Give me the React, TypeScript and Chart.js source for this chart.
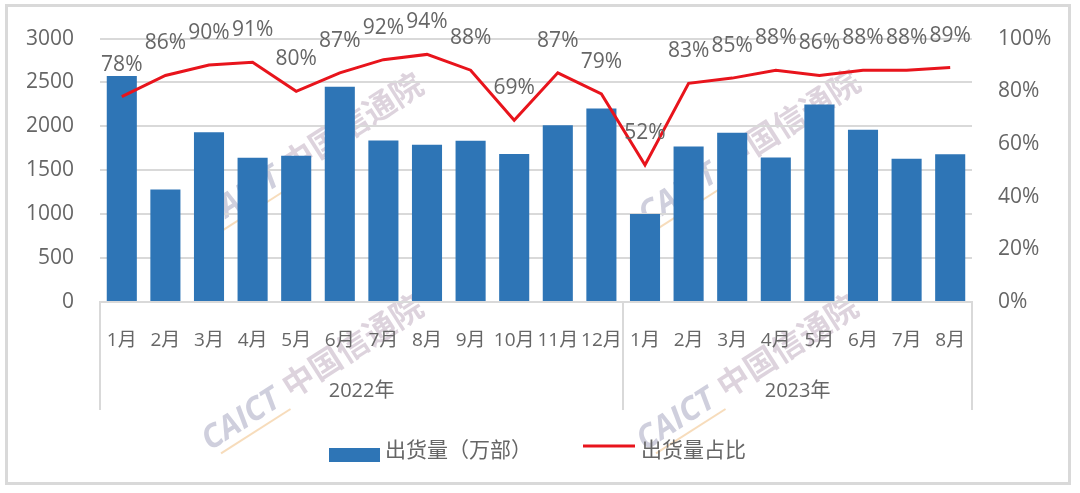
import React, { useEffect, useRef } from "react";
import { Chart, registerables } from "chart.js";

Chart.register(...registerables);

const monthLabels = [
  "1月", "2月", "3月", "4月", "5月", "6月", "7月", "8月", "9月", "10月", "11月", "12月",
  "1月", "2月", "3月", "4月", "5月", "6月", "7月", "8月",
];
const yearOfMonth = [
  "2022年", "2022年", "2022年", "2022年", "2022年", "2022年", "2022年", "2022年", "2022年", "2022年", "2022年", "2022年",
  "2023年", "2023年", "2023年", "2023年", "2023年", "2023年", "2023年", "2023年",
];
const shipments = [2574, 1281, 1932, 1643, 1666, 2453, 1838, 1790, 1836, 1685, 2012, 2205, 1003, 1771, 1927, 1645, 2249, 1962, 1631, 1683];
const sharePct = [78, 86, 90, 91, 80, 87, 92, 94, 88, 69, 87, 79, 52, 83, 85, 88, 86, 88, 88, 89];
const seriesNames = ["出货量（万部）", "出货量占比"];

const FONT = '"Open Sans", "Noto Sans CJK SC", sans-serif';
const TEXT = "#666666";
const BLUE = "#2e75b6";
const RED = "#e8141c";
const GRID = "#d9d9d9";

const watermarkPlugin = {
  id: "watermark",
  beforeDraw(chart: any) {
    const ctx = chart.ctx;
    const origins = [
      [210, 229],
      [647, 226],
      [210, 451],
      [645, 451],
    ];
    const ang = (-32.6 * Math.PI) / 180;
    origins.forEach(([x, y]) => {
      ctx.save();
      ctx.translate(x, y);
      ctx.rotate(ang);
      ctx.textBaseline = "alphabetic";
      ctx.textAlign = "left";
      ctx.font = `italic bold 32px ${FONT}`;
      ctx.fillStyle = "rgba(140,140,175,0.42)";
      ctx.fillText("CAICT", 0, 0);
      const w = ctx.measureText("CAICT").width;
      ctx.strokeStyle = "rgba(240,185,120,0.5)";
      ctx.lineWidth = 2;
      ctx.beginPath();
      ctx.moveTo(8, 8);
      ctx.lineTo(w + 4, 8);
      ctx.stroke();
      ctx.font = `bold 32px ${FONT}`;
      ctx.fillStyle = "rgba(165,140,165,0.38)";
      ctx.fillText("中国信通院", w + 10, 0);
      ctx.restore();
    });
  },
};

const yearGroupPlugin = {
  id: "yearGroups",
  afterDraw(chart: any) {
    const ctx = chart.ctx;
    const xs = chart.scales.x;
    const area = chart.chartArea;
    const bottom = 410;
    const groups: { name: string; start: number; end: number }[] = [];
    yearOfMonth.forEach((y, i) => {
      const g = groups[groups.length - 1];
      if (g && g.name === y) g.end = i;
      else groups.push({ name: y, start: i, end: i });
    });
    const edge = (i: number) => {
      if (i <= 0) return area.left;
      if (i >= monthLabels.length) return area.right;
      return (xs.getPixelForValue(i - 1) + xs.getPixelForValue(i)) / 2;
    };
    ctx.save();
    ctx.strokeStyle = GRID;
    ctx.lineWidth = 2;
    const boundaries = [0, ...groups.map((g) => g.end + 1)];
    boundaries.forEach((b) => {
      const x = Math.round(edge(b));
      ctx.beginPath();
      ctx.moveTo(x, area.bottom);
      ctx.lineTo(x, bottom);
      ctx.stroke();
    });
    ctx.fillStyle = TEXT;
    ctx.font = `20px ${FONT}`;
    ctx.textAlign = "center";
    ctx.textBaseline = "middle";
    groups.forEach((g) => {
      const cx = (edge(g.start) + edge(g.end + 1)) / 2;
      ctx.fillText(g.name, cx, 391);
    });
    ctx.restore();
  },
};

const pctLabelPlugin = {
  id: "pctLabels",
  afterDatasetsDraw(chart: any) {
    const ctx = chart.ctx;
    const meta = chart.getDatasetMeta(1);
    ctx.save();
    ctx.fillStyle = TEXT;
    ctx.font = `21px ${FONT}`;
    ctx.textAlign = "center";
    ctx.textBaseline = "middle";
    meta.data.forEach((pt: any, i: number) => {
      ctx.fillText(`${sharePct[i]}%`, pt.x, pt.y - 32);
    });
    ctx.restore();
  },
};

const legendPlugin = {
  id: "customLegend",
  afterDraw(chart: any) {
    const ctx = chart.ctx;
    ctx.save();
    ctx.fillStyle = BLUE;
    ctx.fillRect(329, 448, 51, 14);
    ctx.strokeStyle = RED;
    ctx.lineWidth = 3;
    ctx.beginPath();
    ctx.moveTo(583, 446);
    ctx.lineTo(635, 446);
    ctx.stroke();
    ctx.fillStyle = TEXT;
    ctx.font = `21px ${FONT}`;
    ctx.textAlign = "left";
    ctx.textBaseline = "middle";
    ctx.fillText(seriesNames[0], 385, 451);
    ctx.fillText(seriesNames[1], 641, 451);
    ctx.restore();
  },
};

export default function App() {
  const ref = useRef<HTMLCanvasElement | null>(null);

  useEffect(() => {
    document.body.style.margin = "0";
    const canvas = ref.current;
    if (!canvas) return;
    const chart = new Chart(canvas, {
      type: "bar",
      data: {
        labels: monthLabels,
        datasets: [
          {
            type: "bar",
            label: seriesNames[0],
            data: shipments,
            backgroundColor: BLUE,
            barPercentage: 0.69,
            categoryPercentage: 1,
            yAxisID: "y",
            order: 2,
          },
          {
            type: "line",
            label: seriesNames[1],
            data: sharePct,
            borderColor: RED,
            borderWidth: 3,
            pointRadius: 0,
            tension: 0,
            yAxisID: "y1",
            order: 1,
          },
        ],
      } as any,
      options: {
        responsive: false,
        animation: false,
        devicePixelRatio: 1,
        layout: { padding: { top: 34, bottom: 0, left: 0, right: 0 } },
        plugins: { legend: { display: false }, tooltip: { enabled: false } },
        scales: {
          x: {
            grid: { display: false, drawTicks: false },
            border: { display: true, color: GRID, width: 2 },
            ticks: {
              color: TEXT,
              font: { size: 19, family: FONT },
              padding: 27,
              autoSkip: false,
              maxRotation: 0,
              minRotation: 0,
            },
            afterFit: (s: any) => {
              s.height = 493 - 302;
            },
          },
          y: {
            position: "left",
            min: 0,
            max: 3000,
            ticks: {
              stepSize: 500,
              color: TEXT,
              font: { size: 21, family: FONT },
              padding: 26,
              callback: (v: any) => String(v),
            },
            grid: { color: GRID, lineWidth: 2, drawTicks: false },
            border: { display: false },
            afterFit: (s: any) => {
              s.width = 100;
            },
          },
          y1: {
            position: "right",
            min: 0,
            max: 100,
            ticks: {
              stepSize: 20,
              color: TEXT,
              font: { size: 21, family: FONT },
              padding: 26,
              callback: (v: any) => `${v}%`,
            },
            grid: { display: false, drawTicks: false },
            border: { display: false },
            afterFit: (s: any) => {
              s.width = 1080 - 972;
            },
          },
        },
      } as any,
      plugins: [watermarkPlugin, yearGroupPlugin, pctLabelPlugin, legendPlugin],
    });
    return () => chart.destroy();
  }, []);

  return (
    <div style={{ position: "relative", width: 1080, height: 493, background: "#fff" }}>
      <canvas ref={ref} width={1080} height={493} style={{ display: "block", width: 1080, height: 493 }} />
      <div
        style={{
          position: "absolute",
          left: 5,
          top: 4,
          width: 1066,
          height: 481,
          border: "3px solid #d9d9d9",
          boxSizing: "border-box",
          pointerEvents: "none",
        }}
      />
    </div>
  );
}
